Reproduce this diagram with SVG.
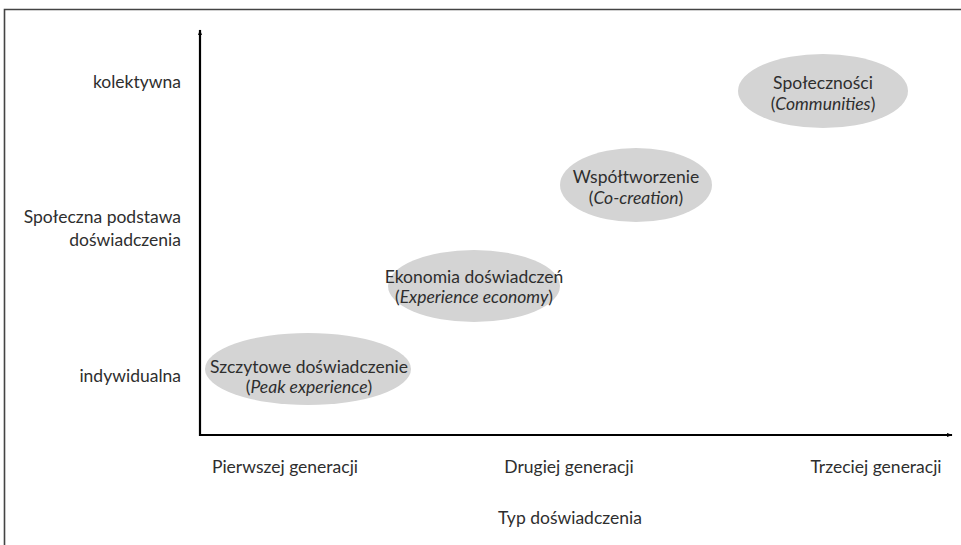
<svg xmlns="http://www.w3.org/2000/svg" width="961" height="545" viewBox="0 0 961 545">
  <defs>
    <style>
      .t { font-family: Lato, "Open Sans", "Liberation Sans", sans-serif; font-size: 17.5px; fill: #2e2e2e; }
      .c { text-anchor: middle; }
      .r { text-anchor: end; }
      .i { font-style: italic; }
      .node ellipse { fill: #d4d4d4; stroke: none; }
      .axis { stroke: #000000; stroke-width: 2.2; fill: none; }
    </style>
    <marker id="arrow" viewBox="0 0 10 10" refX="9" refY="5" markerWidth="6" markerHeight="6" orient="auto" markerUnits="userSpaceOnUse">
      <path d="M0,1.5 L10,5 L0,8.5 Z" fill="#000000"/>
    </marker>
  </defs>

  <rect width="961" height="545" fill="#ffffff"/>
  <!-- frame -->
  <path d="M961,9.5 H4.5 V545" stroke="#444444" stroke-width="1.6" fill="none"/>

  <!-- axes -->
  <g id="connectors">
    <line class="axis" x1="200" y1="436" x2="200" y2="30" marker-end="url(#arrow)"/>
    <line class="axis" x1="199" y1="435" x2="952" y2="435" marker-end="url(#arrow)"/>
  </g>

  <!-- axis labels -->
  <g id="y-labels">
    <text class="t r" x="181" y="88">kolektywna</text>
    <text class="t r" x="181" y="223">Społeczna podstawa</text>
    <text class="t r" x="181" y="246">doświadczenia</text>
    <text class="t r" x="181" y="382">indywidualna</text>
  </g>
  <g id="x-labels">
    <text class="t c" x="285" y="473">Pierwszej generacji</text>
    <text class="t c" x="569" y="473">Drugiej generacji</text>
    <text class="t c" x="876" y="473">Trzeciej generacji</text>
    <text class="t c" x="570" y="524">Typ doświadczenia</text>
  </g>

  <g id="node-peak" class="node">
    <ellipse cx="308" cy="369" rx="103" ry="36"/>
    <text class="t c" x="309" y="373">Szczytowe doświadczenie</text>
    <text class="t c" x="309" y="393">(<tspan class="i">Peak experience</tspan>)</text>
  </g>
  <g id="node-economy" class="node">
    <ellipse cx="474" cy="286" rx="86" ry="36"/>
    <text class="t c" x="474" y="283">Ekonomia doświadczeń</text>
    <text class="t c" x="474" y="303">(<tspan class="i">Experience economy</tspan>)</text>
  </g>
  <g id="node-cocreation" class="node">
    <ellipse cx="636" cy="185" rx="76" ry="37"/>
    <text class="t c" x="636" y="183">Współtworzenie</text>
    <text class="t c" x="636" y="204">(<tspan class="i">Co-creation</tspan>)</text>
  </g>
  <g id="node-communities" class="node">
    <ellipse cx="823" cy="91" rx="85" ry="37"/>
    <text class="t c" x="823" y="89">Społeczności</text>
    <text class="t c" x="823" y="110">(<tspan class="i">Communities</tspan>)</text>
  </g>
</svg>
